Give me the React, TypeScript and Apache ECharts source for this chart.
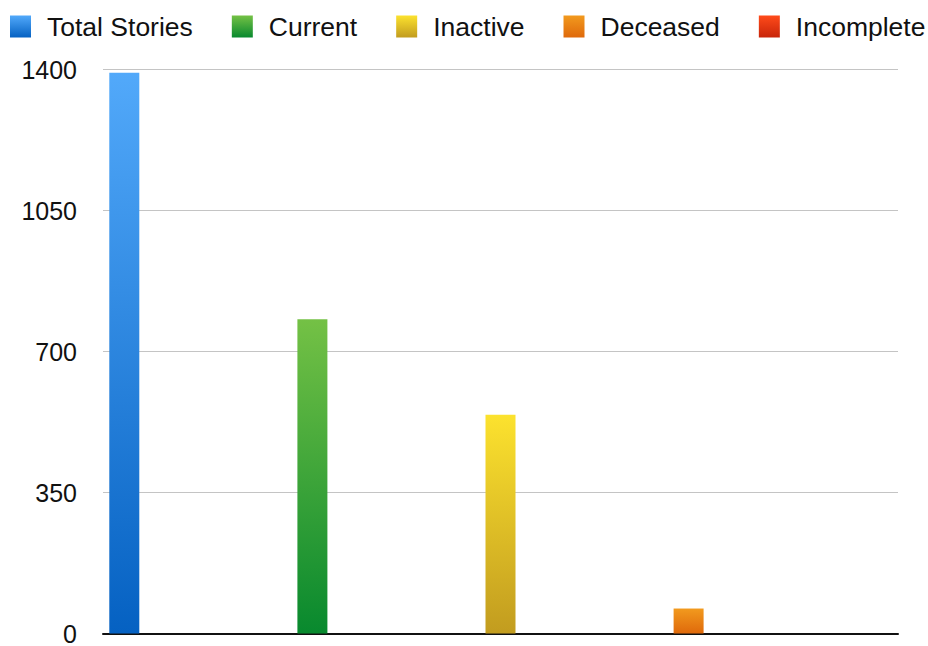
import React, { useEffect, useRef } from "react";
import * as echarts from "echarts";

const seriesNames = ["Total Stories", "Current", "Inactive", "Deceased", "Incomplete"];
const seriesValues = [1392, 780, 543, 62, 0];
const gradientTops = ["#52A9FA", "#74C145", "#FCE22E", "#F29A1E", "#FF4B1A"];
const gradientBottoms = ["#0561C2", "#08892E", "#C29C1F", "#DF690B", "#C8250A"];
const yTicks = { min: 0, max: 1400, interval: 350 };

const FONT = "'Liberation Sans', Arial, Helvetica, sans-serif";

export default function App() {
  const ref = useRef<HTMLDivElement>(null);
  useEffect(() => {
    if (!ref.current) return;
    const chart = echarts.init(ref.current, undefined, { renderer: "svg" });
    const series = seriesNames.map((name, i) => ({
      name,
      type: "bar",
      data: [seriesValues[i]],
      barWidth: 30,
      barGap: "527%",
      itemStyle: {
        color: new echarts.graphic.LinearGradient(0, 0, 0, 1, [
          { offset: 0, color: gradientTops[i] },
          { offset: 1, color: gradientBottoms[i] },
        ]),
      },
    }));
    chart.setOption({
      animation: false,
      textStyle: { fontFamily: FONT },
      legend: {
        left: 10,
        top: 13,
        width: 1100,
        padding: 0,
        itemWidth: 21,
        itemHeight: 22,
        itemGap: 39,
        icon: "rect",
        data: seriesNames,
        textStyle: {
          fontFamily: FONT,
          fontSize: 26.5,
          color: "#111",
          padding: [0, 0, 0, 11],
        },
      },
      grid: { left: 103, right: 30, top: 69.5, bottom: 8.5, containLabel: false },
      xAxis: {
        type: "category",
        data: [""],
        axisLine: { show: true, lineStyle: { color: "#111", width: 2 } },
        axisTick: { show: false },
        axisLabel: { show: false },
      },
      yAxis: {
        type: "value",
        min: yTicks.min,
        max: yTicks.max,
        interval: yTicks.interval,
        axisLine: { show: false },
        axisTick: { show: false },
        axisLabel: {
          fontFamily: FONT,
          fontSize: 25,
          color: "#111",
          margin: 26,
          formatter: (v: number) => String(v),
        },
        splitLine: { lineStyle: { color: "#c4c4c4", width: 1 } },
      },
      series,
    });
    return () => chart.dispose();
  }, []);
  return (
    <div
      ref={ref}
      style={{ position: "fixed", left: 0, top: 0, width: 928, height: 646, background: "#fff" }}
    />
  );
}
